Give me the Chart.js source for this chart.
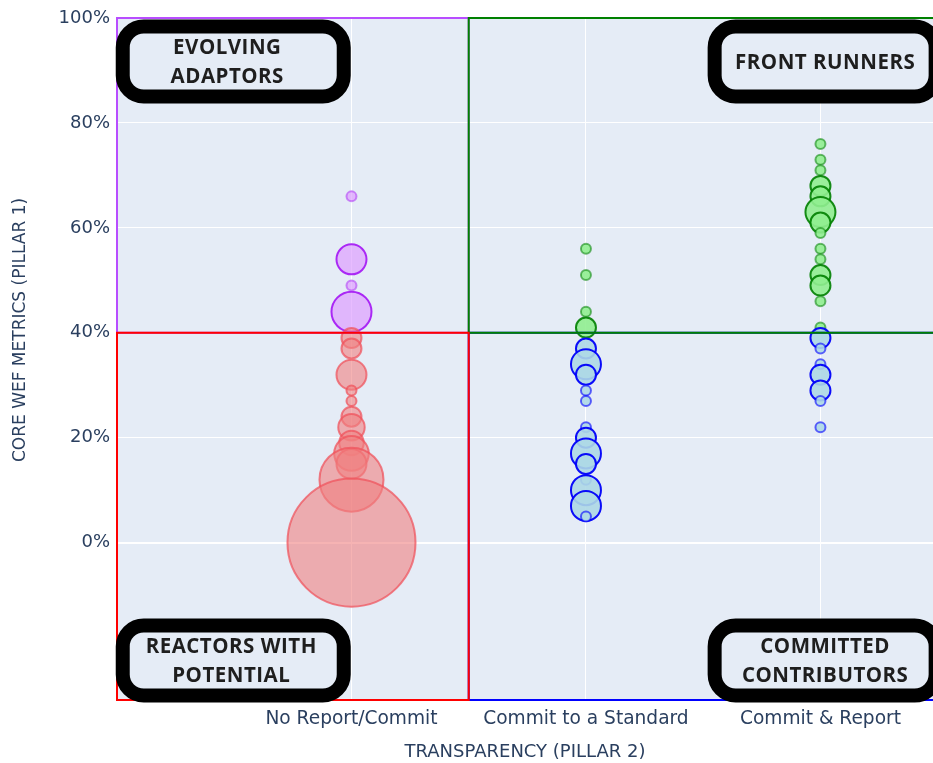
<!DOCTYPE html>
<html><head><meta charset="utf-8">
<script src="https://cdn.jsdelivr.net/npm/chart.js@4/dist/chart.umd.min.js"></script>
<style>html,body{margin:0;padding:0;background:#fff}#wrap{width:933px;height:763px;position:relative}</style>
</head><body><div id="wrap"><canvas id="c"></canvas></div>
<script>
// ---- data ----
const categories = ['No Report/Commit', 'Commit to a Standard', 'Commit & Report'];
const yTickValues = [0, 20, 40, 60, 80, 100];
const xTitle = 'TRANSPARENCY (PILLAR 2)';
const yTitle = 'CORE WEF METRICS (PILLAR 1)';
const quadrantLabels = ['EVOLVING\nADAPTORS', 'FRONT RUNNERS', 'REACTORS WITH\nPOTENTIAL', 'COMMITTED\nCONTRIBUTORS'];

// Evolving adaptors (No Report/Commit, >=40%)
const evolvingPct = [66, 54, 49, 44];
const evolvingCount = [1, 9, 1, 16];
// Reactors with potential (No Report/Commit, <40%)
const reactorsPct = [39, 37, 32, 29, 27, 24, 22, 19, 17, 15, 12, 0];
const reactorsCount = [4, 4, 9, 1, 1, 4, 7, 6, 12, 9, 41, 164];
// Front runners (>=40%)
const frontStdPct = [56, 51, 44, 41];
const frontStdCount = [1, 1, 1, 4];
const frontRepPct = [76, 73, 71, 68, 66, 63, 61, 59, 56, 54, 51, 49, 46, 41];
const frontRepCount = [1, 1, 1, 4, 4, 9, 4, 1, 1, 1, 4, 4, 1, 1];
// Committed contributors (<40%)
const commitStdPct = [37, 34, 32, 29, 27, 22, 20, 17, 15, 12, 10, 7, 5];
const commitStdCount = [4, 9, 4, 1, 1, 1, 4, 9, 4, 1, 9, 9, 1];
const commitRepPct = [39, 37, 34, 32, 29, 27, 22];
const commitRepCount = [4, 1, 1, 4, 4, 1, 1];

// ---- build ----
const radius = n => 5 * Math.sqrt(n);
function pts(catIndex, pct, cnt) {
  return pct.map((v, i) => ({ x: catIndex, y: v, r: radius(cnt[i]), n: cnt[i] }));
}
const PLOT_BG = '#e5ecf6';
const FONT = "'DejaVu Sans', Verdana, sans-serif";
const AXIS_COLOR = '#2a3f5f';

function borderBySize(strong, weak) {
  return ctx => (ctx.raw && ctx.raw.n >= 4) ? strong : weak;
}

const datasets = [
  { label: 'Reactors', data: pts(0, reactorsPct, reactorsCount),
    backgroundColor: 'rgba(240,128,128,0.6)', borderColor: 'rgba(240,80,90,0.72)', borderWidth: 2 },
  { label: 'Evolving', data: pts(0, evolvingPct, evolvingCount),
    backgroundColor: 'rgba(222,160,255,0.7)', borderColor: borderBySize('rgba(170,40,245,1)', 'rgba(170,40,245,0.5)'), borderWidth: 2 },
  { label: 'Committed', data: pts(1, commitStdPct, commitStdCount).concat(pts(2, commitRepPct, commitRepCount)),
    backgroundColor: 'rgba(173,216,230,0.9)', borderColor: borderBySize('rgba(0,0,250,0.95)', 'rgba(0,0,255,0.6)'), borderWidth: 2 },
  { label: 'Front', data: pts(1, frontStdPct, frontStdCount).concat(pts(2, frontRepPct, frontRepCount)),
    backgroundColor: 'rgba(144,238,144,0.9)', borderColor: borderBySize('rgba(0,128,0,0.9)', 'rgba(0,128,0,0.55)'), borderWidth: 2 }
];

const plotBg = {
  id: 'plotBg',
  beforeDraw(chart) {
    const { ctx, chartArea: a } = chart;
    ctx.save(); ctx.fillStyle = PLOT_BG;
    ctx.fillRect(a.left, a.top, a.right - a.left, a.bottom - a.top);
    ctx.restore();
  }
};

const quadrants = {
  id: 'quadrants',
  afterDatasetsDraw(chart) {
    const { ctx, scales: { x, y } } = chart;
    const rect = (x0, x1, y0, y1, color) => {
      const px0 = x.getPixelForValue(x0), px1 = x.getPixelForValue(x1);
      const py0 = y.getPixelForValue(y0), py1 = y.getPixelForValue(y1);
      ctx.strokeStyle = color; ctx.lineWidth = 2;
      ctx.strokeRect(px0, py1, px1 - px0, py0 - py1);
    };
    ctx.save();
    rect(-1, 0.5, 40, 100, '#b84dff');
    rect(0.5, 2.55, -30, 40, '#0000ff');
    rect(0.5, 2.55, 40, 100, '#008000');
    rect(-1, 0.5, -30, 40, '#ff0000');
    ctx.restore();
  }
};

const labelsPlugin = {
  id: 'labelsPlugin',
  afterDraw(chart) {
    const { ctx, chartArea: a, scales: { x } } = chart;
    const leftCx = x.getPixelForValue(-0.5) - 1;
    const rightCx = x.getPixelForValue(2.02);
    const topCy = a.top + 43.5;
    const botCy = a.bottom - 39.5;
    const boxes = [[leftCx, topCy], [rightCx, topCy], [leftCx, botCy], [rightCx, botCy]];
    const textDx = [-6, 0, -2, 0];
    const W = 221, H = 70, R = 21;
    ctx.save();
    boxes.forEach(([cx, cy], i) => {
      ctx.beginPath();
      ctx.roundRect(cx - W / 2, cy - H / 2, W, H, R);
      ctx.fillStyle = PLOT_BG; ctx.fill();
      ctx.lineWidth = 14; ctx.strokeStyle = '#000'; ctx.stroke();
      const lines = quadrantLabels[i].split('\n');
      ctx.fillStyle = '#1e1e1e';
      ctx.font = "bold 20.5px 'Open Sans', sans-serif";
      ctx.letterSpacing = '0.5px';
      ctx.textAlign = 'center'; ctx.textBaseline = 'middle';
      const lh = 29;
      lines.forEach((t, k) => {
        ctx.fillText(t, cx + textDx[i], cy + (k - (lines.length - 1) / 2) * lh + 1.5);
      });
    });
    ctx.letterSpacing = '0px';
    // y axis title
    ctx.translate(21, 330);
    ctx.rotate(-Math.PI / 2);
    ctx.font = '17px ' + FONT;
    ctx.fillStyle = AXIS_COLOR;
    ctx.textAlign = 'center'; ctx.textBaseline = 'middle';
    ctx.fillText(yTitle, 0, 0);
    ctx.restore();
  }
};

new Chart(document.getElementById('c'), {
  type: 'bubble',
  data: { datasets },
  options: {
    responsive: true, maintainAspectRatio: false, animation: false,
    layout: { autoPadding: false, padding: { top: 18, right: 0, left: 0, bottom: 0 } },
    plugins: { legend: { display: false }, tooltip: { enabled: false } },
    events: [],
    clip: false,
    scales: {
      x: {
        type: 'linear', min: -1, max: 2.48,
        afterBuildTicks: s => { s.ticks = categories.map((c, i) => ({ value: i })); },
        afterFit: s => { s.height = 63; },
        ticks: { callback: v => categories[v], color: AXIS_COLOR, font: { family: FONT, size: 18.6 }, padding: 8, maxRotation: 0, autoSkip: false },
        grid: { color: '#ffffff', lineWidth: 1, drawTicks: false },
        border: { display: false },
        title: { display: true, text: xTitle, color: AXIS_COLOR, font: { family: FONT, size: 18 }, padding: { top: 0, bottom: 0 } }
      },
      y: {
        type: 'linear', min: -30, max: 100,
        afterBuildTicks: s => { s.ticks = yTickValues.map(v => ({ value: v })); },
        afterFit: s => { s.width = 117; },
        ticks: { callback: v => v + '%', color: AXIS_COLOR, font: { family: FONT, size: 18 }, padding: 7 },
        grid: { color: '#ffffff', lineWidth: ctx => (ctx.tick && ctx.tick.value === 0) ? 2 : 1, drawTicks: false },
        border: { display: false }
      }
    }
  },
  plugins: [plotBg, quadrants, labelsPlugin]
});
</script>
</body></html>
